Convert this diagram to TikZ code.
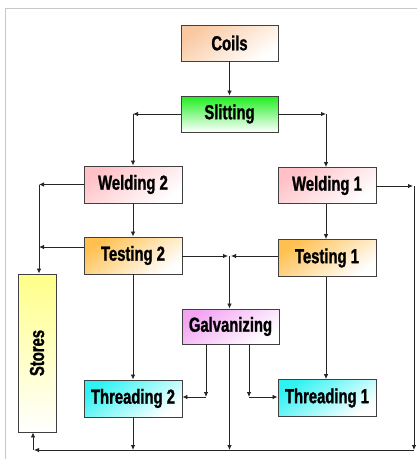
\documentclass[tikz,border=0pt]{standalone}
\usepackage{fontspec}
\setmainfont[FakeStretch=0.73, BoldFeatures={FakeBold=1.2}]{Liberation Sans}
\usetikzlibrary{arrows.meta}
\definecolor{frm}{HTML}{C8C8C8}
\definecolor{bord}{HTML}{404040}
\definecolor{cpeach}{HTML}{F9C8A0}
\definecolor{cgreen}{HTML}{1EEE1E}
\definecolor{cpink}{HTML}{FFC0C6}
\definecolor{corange}{HTML}{FFC050}
\definecolor{cviolet}{HTML}{F2A4F2}
\definecolor{ccyan}{HTML}{30F2F2}
\definecolor{cyellow}{HTML}{FFFF88}
\tikzset{
  box/.style={draw=bord, line width=0.9pt, minimum width=97pt, minimum height=36pt,
    inner sep=0pt, font=\fontsize{20.3}{22}\selectfont\bfseries},
  grad/.style={top color=#1, bottom color=white, shading angle=35},
  conn/.style={line width=0.8pt, draw=black!85},
  arr/.style={conn, -{Latex[length=5pt,width=4.5pt]}},
}
\begin{document}
\begin{tikzpicture}[x=1pt,y=-1pt]
\useasboundingbox (0,0) rectangle (417,459);
\fill[white] (0,0) rectangle (417,459);
\draw[frm, line width=1pt] (5,459) -- (5,8) -- (417,8);

\node[box, grad=cpeach] (coils) at (229.5,43) {Coils};
\node[box, top color=cgreen, bottom color=white] (slit) at (229.5,114) {Slitting};
\node[box, grad=cpink, minimum width=98pt, minimum height=37pt] (weld2) at (133,184.5) {Welding 2};
\node[box, grad=cpink, minimum width=98pt, minimum height=36pt] (weld1) at (327,185.5) {Welding 1};
\node[box, grad=corange, minimum width=98pt, minimum height=37pt] (test2) at (133,255.5) {Testing 2};
\node[box, grad=corange, minimum width=98pt, minimum height=37pt] (test1) at (327,258) {Testing 1};
\node[box, grad=cviolet, minimum height=35pt] (galv) at (230.5,326.5) {Galvanizing};
\node[box, grad=ccyan, minimum width=98pt, minimum height=37pt] (thr2) at (133,398.5) {Threading 2};
\node[box, grad=ccyan, minimum width=98pt, minimum height=37pt] (thr1) at (327,398) {Threading 1};
\node[box, top color=cyellow, bottom color=white, minimum width=38pt, minimum height=158pt] (stores) at (37,353)
  {\rotatebox{90}{Stores}};

% coordinates
\coordinate (sl) at (133,114);
\coordinate (sr) at (326,114);
\coordinate (wl) at (39,184.5);
\coordinate (tl) at (39,247);
\coordinate (j) at (229.5,256);
\coordinate (wr) at (414,186);
\coordinate (br) at (414,450);
\coordinate (bl) at (34,450);
\coordinate (bu) at (33,450);
\coordinate (gl) at (206,397);
\coordinate (gr) at (249,397);
\coordinate (gm) at (229.5,450);
\coordinate (t2b) at (133,450);

\draw[arr] (coils) -- (slit);
\draw[arr] (slit.west |- sl) -- (sl);
\draw[arr] (sl) -- (weld2.north);
\draw[arr] (slit.east |- sr) -- (sr);
\draw[arr] (sr) -- (weld1.north -| sr);

\draw[arr] (weld2.west |- wl) -- (wl);
\draw[arr] (wl) -- (stores.north -| wl);
\draw[arr] (test2.west |- tl) -- (tl);
\draw[arr] (weld2) -- (test2);
\draw[arr] (weld1.south -| sr) -- (test1.north -| sr);

\draw[arr] (test2.east |- j) -- ([xshift=-1.5pt]j);
\draw[arr] (test1.west |- j) -- ([xshift=1.5pt]j);
\draw[arr] (j) -- (galv.north -| j);

\draw[arr] (weld1.east |- wr) -- ([xshift=-1pt]wr);
\draw[arr] (wr) -- (br);
\draw[arr] (br) -- (bl);
\draw[arr] (bu) -- (stores.south -| bu);

\draw[arr] (test2) -- (thr2);
\draw[arr] (test1.south -| sr) -- (thr1.north -| sr);
\draw[arr] (thr2) -- (t2b);

\draw[arr] (galv.south -| gl) -- (gl);
\draw[arr] (gl) -- (thr2.east |- gl);
\draw[arr] (galv.south -| gr) -- (gr);
\draw[arr] (gr) -- (thr1.west |- gr);
\draw[arr] (galv.south -| gm) -- (gm);
\end{tikzpicture}
\end{document}
